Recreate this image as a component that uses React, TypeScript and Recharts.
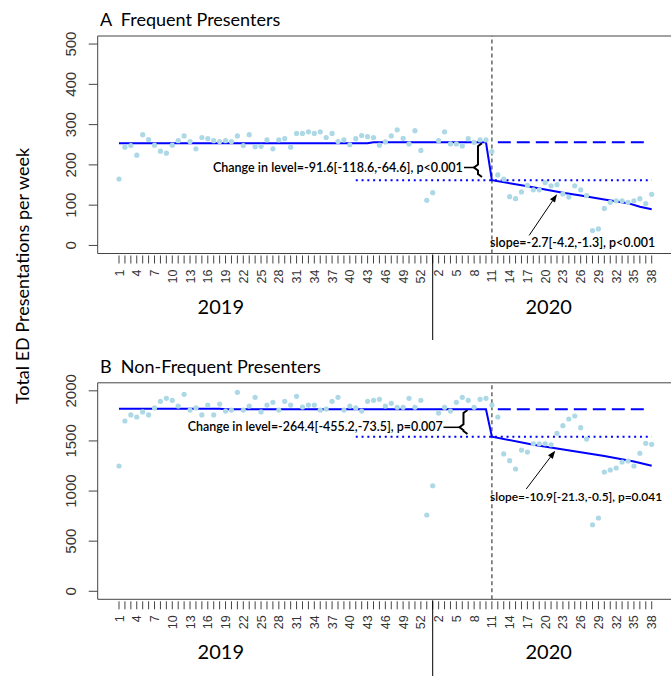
import React from "react";
import {
  ComposedChart,
  Scatter,
  Line,
  XAxis,
  YAxis,
  ReferenceLine,
  ReferenceArea,
  ReferenceDot,
} from "recharts";

// week of year for each of the 91 weekly observations (2019 w1 .. 2020 w38)
const weekNumbers = [
  1, 2, 3, 4, 5, 6, 7, 8, 9, 10, 11, 12, 13, 14, 15, 16, 17, 18, 19, 20, 21, 22, 23, 24, 25, 26,
  27, 28, 29, 30, 31, 32, 33, 34, 35, 36, 37, 38, 39, 40, 41, 42, 43, 44, 45, 46, 47, 48, 49, 50,
  51, 52, 53, 1, 2, 3, 4, 5, 6, 7, 8, 9, 10, 11, 12, 13, 14, 15, 16, 17, 18, 19, 20, 21, 22, 23,
  24, 25, 26, 27, 28, 29, 30, 31, 32, 33, 34, 35, 36, 37, 38,
];
const obsIndex = [
  1, 2, 3, 4, 5, 6, 7, 8, 9, 10, 11, 12, 13, 14, 15, 16, 17, 18, 19, 20, 21, 22, 23, 24, 25, 26,
  27, 28, 29, 30, 31, 32, 33, 34, 35, 36, 37, 38, 39, 40, 41, 42, 43, 44, 45, 46, 47, 48, 49, 50,
  51, 52, 53, 54, 55, 56, 57, 58, 59, 60, 61, 62, 63, 64, 65, 66, 67, 68, 69, 70, 71, 72, 73, 74,
  75, 76, 77, 78, 79, 80, 81, 82, 83, 84, 85, 86, 87, 88, 89, 90, 91,
];

const frequentValues = [
  165, 244, 248, 224, 275, 263, 249, 234, 229, 249, 260, 272, 258, 240, 268, 265, 260, 258, 260,
  258, 272, 248, 275, 245, 246, 262, 240, 262, 265, 244, 278, 278, 282, 278, 282, 268, 278, 258,
  262, 250, 265, 273, 270, 268, 249, 257, 272, 287, 266, 252, 285, 236, 112, 131, 260, 282, 252,
  252, 247, 265, 256, 262, 262, 233, 175, 165, 121, 116, 133, 149, 138, 138, 156, 148, 151, 128,
  120, 148, 138, 124, 37, 41, 92, 107, 111, 111, 107, 111, 116, 104, 127,
];

const nonFrequentValues = [
  1250, 1699, 1759, 1739, 1789, 1759, 1829, 1895, 1925, 1905, 1848, 1965, 1808, 1829, 1759, 1858,
  1759, 1868, 1798, 1808, 1985, 1808, 1848, 1935, 1789, 1858, 1885, 1808, 1895, 1858, 1945, 1838,
  1858, 1858, 1808, 1818, 1895, 1935, 1808, 1848, 1829, 1798, 1895, 1905, 1915, 1848, 1875, 1835,
  1835, 1925, 1835, 1905, 761, 1053, 1778, 1835, 1798, 1885, 1935, 1905, 1835, 1915, 1925, 1858,
  1739, 1370, 1303, 1220, 1409, 1389, 1472, 1472, 1472, 1462, 1576, 1652, 1719, 1749, 1632, 1519,
  664, 731, 1190, 1210, 1230, 1290, 1300, 1250, 1377, 1476, 1466,
];

// fitted segmented-regression line (knots)
const frequentFit = [
  { week: 1, value: 254 },
  { week: 43, value: 254 },
  { week: 44, value: 256 },
  { week: 63, value: 256 },
  { week: 64, value: 162 },
  { week: 70, value: 147 },
  { week: 76, value: 131 },
  { week: 79, value: 124 },
  { week: 83, value: 114 },
  { week: 87, value: 105 },
  { week: 89, value: 96 },
  { week: 91, value: 90 },
];
const nonFrequentFit = [
  { week: 1, value: 1822 },
  { week: 18, value: 1822 },
  { week: 19, value: 1815 },
  { week: 63, value: 1815 },
  { week: 64, value: 1542 },
  { week: 71, value: 1462 },
  { week: 75, value: 1425 },
  { week: 83, value: 1350 },
  { week: 88, value: 1295 },
  { week: 91, value: 1253 },
];

const frequentCounterfactual = [
  { week: 65, value: 256 },
  { week: 90, value: 256 },
];
const frequentPostLevel = [
  { week: 41, value: 162 },
  { week: 91, value: 162 },
];
const nonFrequentCounterfactual = [
  { week: 65, value: 1815 },
  { week: 90, value: 1815 },
];
const nonFrequentPostLevel = [
  { week: 41, value: 1542 },
  { week: 91, value: 1542 },
];

const frequentTicks = [0, 100, 200, 300, 400, 500];
const nonFrequentTicks = [0, 500, 1000, 1500, 2000];

const interruptionWeek = 64;
const yearStartWeek = 54;

const ANNO_FONT = "Lato, 'Open Sans', sans-serif";
const AXIS_FONT = "'Liberation Sans', Arial, sans-serif";

function WeekTick(props: any) {
  const { x, y, payload } = props;
  const idx = payload.value;
  const label = weekNumbers[idx - 1];
  const showLabel = (idx - 1) % 3 === 0;
  return (
    <g>
      <line x1={x} x2={x} y1={y + 2} y2={y + 10} stroke="#444" strokeWidth={1} />
      {showLabel && (
        <text
          transform={`translate(${x + 4.5},${y + 16}) rotate(-90)`}
          textAnchor="end"
          fontSize={12.5}
          fill="#333"
          fontFamily={AXIS_FONT}
        >
          {label}
        </text>
      )}
      {idx === yearStartWeek && <line x1={x} x2={x} y1={y + 1} y2={y + 90} stroke="#000" strokeWidth={1} />}
    </g>
  );
}

function ValueTick(props: any) {
  const { x, y, payload } = props;
  return (
    <g>
      <line x1={x - 9} x2={x} y1={y} y2={y} stroke="#444" strokeWidth={1} />
      <text
        transform={`translate(${x - 22},${y}) rotate(-90)`}
        textAnchor="middle"
        fontSize={15}
        fill="#333"
        fontFamily={AXIS_FONT}
      >
        {payload.value}
      </text>
    </g>
  );
}

function textShape(
  label: string,
  anchor: "start" | "end" | "middle",
  width: number | undefined,
  size: number,
  dy: number,
  weight: number = 400
) {
  return (p: any) => (
    <text
      x={p.cx}
      y={p.cy + dy}
      textAnchor={anchor}
      fontSize={size}
      fontWeight={weight}
      fontFamily={ANNO_FONT}
      fill="#000"
      textLength={width}
      lengthAdjust={width ? "spacingAndGlyphs" : undefined}
    >
      {label}
    </text>
  );
}

function bracketShape(connectFrom: number) {
  return (p: any) => {
    const bx = p.x;
    const top = p.y;
    const bot = p.y + p.height;
    const mid = top + p.height * 0.72;
    const d = `M ${bx + 4} ${top} L ${bx} ${top + 3} L ${bx} ${mid - 3} L ${bx - 4} ${mid} L ${bx} ${mid + 3} L ${bx} ${bot - 3} L ${bx + 4} ${bot}`;
    return (
      <g>
        <path d={d} fill="none" stroke="#000" strokeWidth={2} />
        <line x1={bx - connectFrom} x2={bx - 4} y1={mid} y2={mid} stroke="#000" strokeWidth={1.5} />
      </g>
    );
  };
}

function arrowShape(p: any) {
  const { x1, y1, x2, y2 } = p;
  const ang = Math.atan2(y2 - y1, x2 - x1);
  const len = 8;
  const w = 3;
  const bx = x2 - len * Math.cos(ang);
  const by = y2 - len * Math.sin(ang);
  const px = -Math.sin(ang) * w;
  const py = Math.cos(ang) * w;
  return (
    <g>
      <line x1={x1} y1={y1} x2={bx} y2={by} stroke="#000" strokeWidth={1} />
      <polygon points={`${x2},${y2} ${bx + px},${by + py} ${bx - px},${by - py}`} fill="#000" />
    </g>
  );
}

interface Note {
  label: string;
  x: number;
  y: number;
  width: number;
  size: number;
}

interface PanelProps {
  height: number;
  marginTop: number;
  marginBottom: number;
  values: number[];
  fit: { week: number; value: number }[];
  counterfactual: { week: number; value: number }[];
  postLevel: { week: number; value: number }[];
  yDomain: [number, number];
  yTicks: number[];
  bracket: { x: number; top: number; bottom: number; connect: number };
  levelText: Note;
  slopeText: Note;
  arrow: { x1: number; y1: number; x2: number; y2: number };
}

function Panel(props: PanelProps) {
  const points = props.values.map((v, i) => ({ week: obsIndex[i], value: v }));
  const [y0, y1] = props.yDomain;
  const { levelText, slopeText } = props;
  return (
    <ComposedChart
      width={680}
      height={props.height}
      margin={{ top: props.marginTop, right: 7, bottom: props.marginBottom, left: 67.7 }}
    >
      <XAxis
        type="number"
        dataKey="week"
        domain={[-2.6, 94.6]}
        ticks={obsIndex}
        interval={0}
        allowDataOverflow
        tick={<WeekTick />}
        tickLine={false}
        axisLine={false}
        tickSize={0}
        tickMargin={0}
        height={30}
      />
      <YAxis
        type="number"
        domain={props.yDomain}
        ticks={props.yTicks}
        interval={0}
        allowDataOverflow
        tick={<ValueTick />}
        tickLine={false}
        axisLine={false}
        tickSize={0}
        tickMargin={0}
        width={30}
      />
      <ReferenceArea x1={-2.6} x2={94.6} y1={y0} y2={y1} fill="none" fillOpacity={0} stroke="#444" strokeWidth={1} ifOverflow="visible" />
      <ReferenceLine x={interruptionWeek} stroke="#666" strokeWidth={1.5} strokeDasharray="4 3" />
      <Scatter
        data={points}
        dataKey="value"
        fill="#ADD8E6"
        isAnimationActive={false}
        shape={(p: any) => <circle cx={p.cx} cy={p.cy} r={2.6} fill="#ADD8E6" />}
      />
      <Line data={props.counterfactual} dataKey="value" stroke="#0000FF" strokeWidth={2} strokeDasharray="13 6" dot={false} type="linear" isAnimationActive={false} />
      <Line data={props.postLevel} dataKey="value" stroke="#0000FF" strokeWidth={2} strokeDasharray="2 3.8" dot={false} type="linear" isAnimationActive={false} />
      <Line data={props.fit} dataKey="value" stroke="#0000FF" strokeWidth={2} dot={false} type="linear" isAnimationActive={false} />
      <ReferenceArea
        x1={props.bracket.x}
        x2={props.bracket.x + 0.5}
        y1={props.bracket.bottom}
        y2={props.bracket.top}
        ifOverflow="visible"
        shape={bracketShape(props.bracket.connect)}
      />
      <ReferenceDot x={levelText.x} y={levelText.y} r={0} ifOverflow="visible" shape={textShape(levelText.label, "end", levelText.width, levelText.size, 4, 600)} />
      <ReferenceDot x={slopeText.x} y={slopeText.y} r={0} ifOverflow="visible" shape={textShape(slopeText.label, "start", slopeText.width, slopeText.size, 4, 600)} />
      <ReferenceLine
        segment={[
          { x: props.arrow.x1, y: props.arrow.y1 },
          { x: props.arrow.x2, y: props.arrow.y2 },
        ]}
        ifOverflow="visible"
        shape={arrowShape}
      />
      <ReferenceDot x={18.2} y={y0} r={0} ifOverflow="visible" shape={textShape("2019", "middle", undefined, 20, 60)} />
      <ReferenceDot x={73.6} y={y0} r={0} ifOverflow="visible" shape={textShape("2020", "middle", undefined, 20, 60)} />
    </ComposedChart>
  );
}

export default function App() {
  return (
    <div style={{ position: "absolute", left: 0, top: 0, width: 671, height: 676, overflow: "hidden", background: "#fff" }}>
      <div style={{ position: "absolute", left: 0, top: 0 }}>
        <Panel
          height={340}
          marginTop={36}
          marginBottom={56.5}
          values={frequentValues}
          fit={frequentFit}
          counterfactual={frequentCounterfactual}
          postLevel={frequentPostLevel}
          yDomain={[-20, 520]}
          yTicks={frequentTicks}
          bracket={{ x: 61.65, top: 254, bottom: 170, connect: 14 }}
          levelText={{ label: "Change in level=-91.6[-118.6,-64.6], p<0.001", x: 59.1, y: 192, width: 250, size: 13 }}
          slopeText={{ label: "slope=-2.7[-4.2,-1.3], p<0.001", x: 63.7, y: 6, width: 165, size: 13 }}
          arrow={{ x1: 70.3, y1: 25, x2: 75, y2: 127 }}
        />
      </div>
      <div style={{ position: "absolute", left: 0, top: 340 }}>
        <Panel
          height={336}
          marginTop={42.8}
          marginBottom={46.7}
          values={nonFrequentValues}
          fit={nonFrequentFit}
          counterfactual={nonFrequentCounterfactual}
          postLevel={nonFrequentPostLevel}
          yDomain={[-80, 2080]}
          yTicks={nonFrequentTicks}
          bracket={{ x: 59.2, top: 1808, bottom: 1569, connect: 20 }}
          levelText={{ label: "Change in level=-264.4[-455.2,-73.5], p=0.007", x: 55.7, y: 1642, width: 255, size: 13 }}
          slopeText={{ label: "slope=-10.9[-21.3,-0.5], p=0.041", x: 63.7, y: 944, width: 172, size: 11.5 }}
          arrow={{ x1: 69.8, y1: 1020, x2: 74.7, y2: 1402 }}
        />
      </div>
      <svg width={671} height={676} style={{ position: "absolute", left: 0, top: 0, pointerEvents: "none" }}>
        <text x={100} y={26} fontSize={18} fontFamily={ANNO_FONT} fill="#000">
          {"A\u00A0\u00A0Frequent Presenters"}
        </text>
        <text x={100} y={373} fontSize={18} fontFamily={ANNO_FONT} fill="#000">
          {"B\u00A0\u00A0Non-Frequent Presenters"}
        </text>
        <text
          transform="translate(29,276) rotate(-90)"
          textAnchor="middle"
          fontSize={18}
          fontFamily={ANNO_FONT}
          fill="#000"
        >
          Total ED Presentations per week
        </text>
      </svg>
    </div>
  );
}
